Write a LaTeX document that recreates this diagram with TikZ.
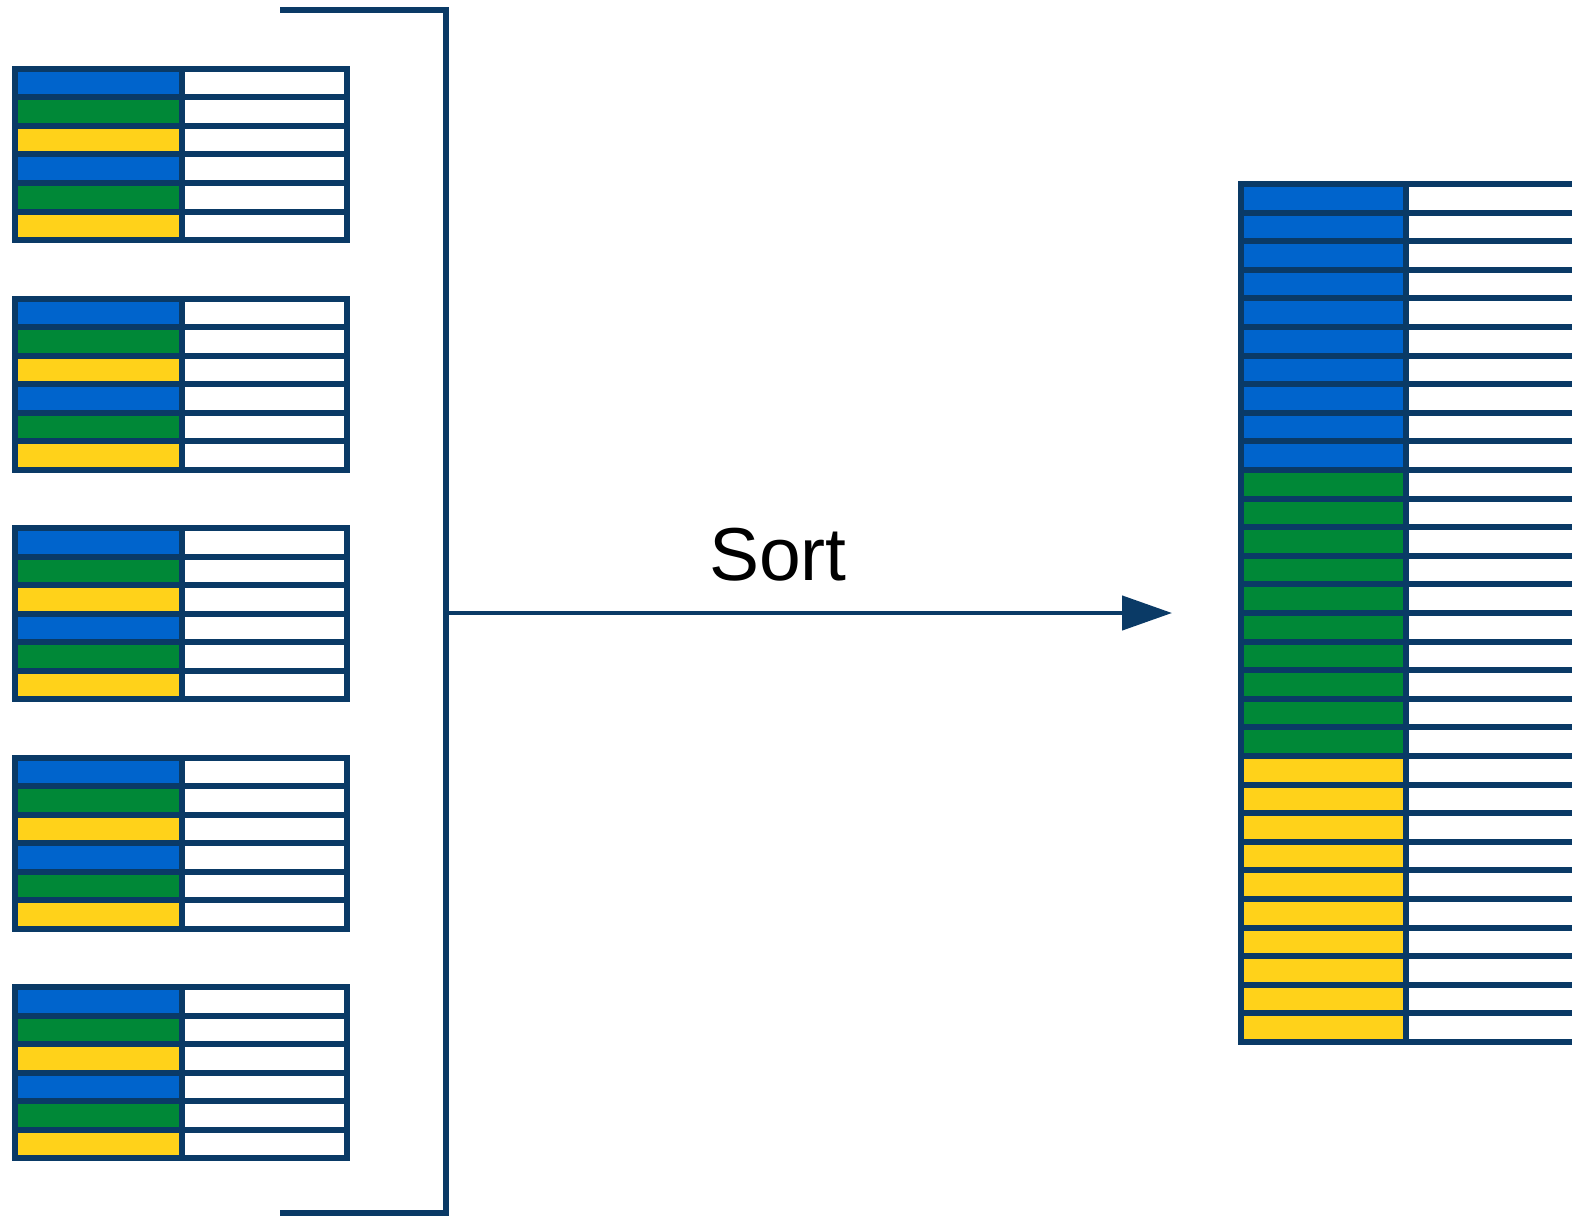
\documentclass[tikz,border=0pt]{standalone}
\usepackage{fontspec}
\setmainfont{Liberation Sans}
\usetikzlibrary{arrows.meta}
\definecolor{navy}{RGB}{10,58,102}
\definecolor{cblue}{RGB}{0,100,204}
\definecolor{cgreen}{RGB}{0,136,55}
\definecolor{cyellow}{RGB}{255,210,26}
\begin{document}
\begin{tikzpicture}[x=1pt,y=-1pt,
  cell/.style={draw=navy, line width=6pt, inner sep=0pt, outer sep=0pt, anchor=north west},
  keycellL/.style={cell, minimum width=167.5pt, minimum height=28.5pt},
  valcellL/.style={cell, minimum width=165pt, minimum height=28.5pt},
  keycellR/.style={cell, minimum width=164.5pt, minimum height=28.63pt},
  valcellR/.style={cell, minimum width=200pt, minimum height=28.63pt},
  bracketline/.style={draw=navy, line width=5.5pt, line join=miter},
  arrowline/.style={draw=navy, line width=4.5pt, -{Triangle[length=50pt,width=34pt]}},
  label/.style={font=\fontsize{75}{80}\selectfont, text=black, anchor=base, inner sep=0pt}]
\useasboundingbox (0,0) rectangle (1572,1220);
\clip (0,0) rectangle (1572,1220);
% left tables
\foreach \t in {0,...,4}{
  \foreach \r/\c in {0/cblue,1/cgreen,2/cyellow,3/cblue,4/cgreen,5/cyellow}{
    \node[keycellL, fill=\c] (LK\t-\r) at (15, 69+229.5*\t+28.5*\r) {};
    \node[valcellL, fill=white] (LV\t-\r) at (182, 69+229.5*\t+28.5*\r) {};
  }
}
% right table
\foreach \r in {0,...,29}{
  \pgfmathsetmacro{\ci}{int(\r/10)}
  \ifcase\ci\def\cc{cblue}\or\def\cc{cgreen}\else\def\cc{cyellow}\fi
  \node[keycellR, fill=\cc] (RK\r) at (1241, 184+28.6*\r) {};
  \node[valcellR, fill=white] (RV\r) at (1405.5, 184+28.6*\r) {};
}
% bracket
\coordinate (btl) at (280,10);
\coordinate (btr) at (446,10);
\coordinate (bbr) at (446,1213);
\coordinate (bbl) at (280,1213);
\coordinate (bmid) at (446,613);
\coordinate (aend) at (1172,613);
\draw[bracketline] (btl) -- (btr) -- (bbr) -- (bbl);
\draw[arrowline] (bmid) -- (aend);
\node[label] (sortlbl) at (778,580) {Sort};
\end{tikzpicture}
\end{document}
